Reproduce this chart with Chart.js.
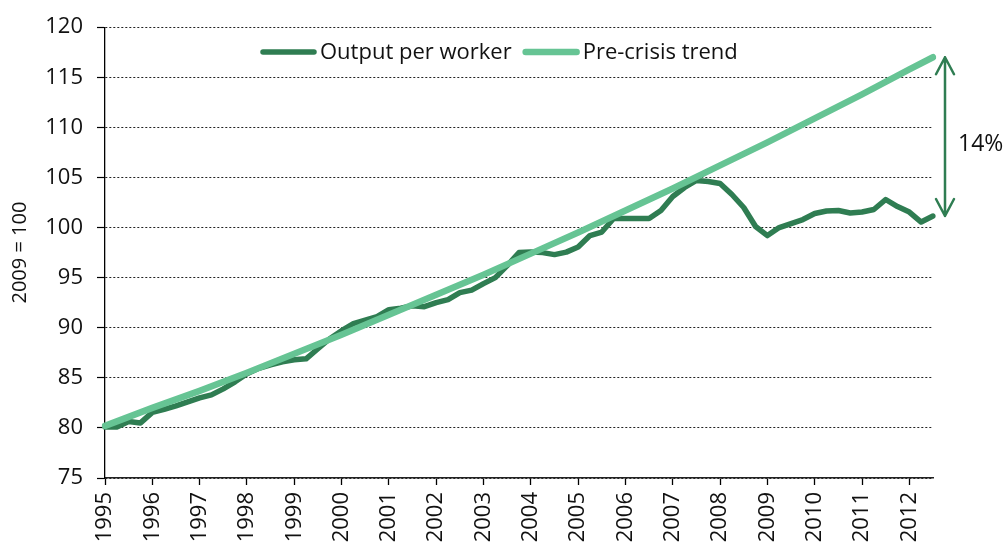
<!DOCTYPE html>
<html>
<head>
<meta charset="utf-8">
<script src="https://cdn.jsdelivr.net/npm/chart.js@4.4.1/dist/chart.umd.min.js"></script>
<style>
html,body{margin:0;padding:0;background:#fff;}
#wrap{width:1006px;height:546px;position:relative;}
</style>
</head>
<body>
<div id="wrap"><canvas id="c"></canvas></div>
<script>
// ---- data ----
const years = [1995,1996,1997,1998,1999,2000,2001,2002,2003,2004,2005,2006,2007,2008,2009,2010,2011,2012];
const lastQuarter = '2012 Q3';
const quarterLabels = [];
for (const y of years) { for (let q = 1; q <= 4; q++) { quarterLabels.push(y + ' Q' + q); } }
quarterLabels.length = quarterLabels.indexOf(lastQuarter) + 1;

const outputPerWorker = [
  80.1, 80.1, 80.65, 80.5,
  81.55, 81.85, 82.2, 82.6,
  83.0, 83.3, 83.9, 84.6,
  85.4, 85.95, 86.3, 86.6,
  86.8, 86.9, 87.9, 88.9,
  89.7, 90.4, 90.75, 91.1,
  91.8, 91.95, 92.2, 92.1,
  92.5, 92.8, 93.5, 93.75,
  94.4, 95.0, 96.2, 97.5,
  97.55, 97.5, 97.3, 97.55,
  98.05, 99.2, 99.55, 100.9,
  100.9, 100.9, 100.9, 101.7,
  103.1, 104.0, 104.7, 104.6,
  104.4, 103.3, 102.0, 100.1,
  99.2, 100.0, 100.4, 100.8,
  101.4, 101.65, 101.7, 101.45,
  101.55, 101.8, 102.8, 102.1,
  101.55, 100.55, 101.15
];

const trendQuarters = ['1995 Q1','1996 Q1','1997 Q1','1998 Q1','1999 Q1','2000 Q1','2001 Q1','2002 Q1','2003 Q1',
  '2004 Q1','2005 Q1','2006 Q1','2007 Q1','2008 Q1','2009 Q1','2010 Q1','2011 Q1','2012 Q1','2012 Q3'];
const trendValues = [80.2, 82.0, 83.7, 85.5, 87.4, 89.3, 91.3, 93.3, 95.3,
  97.4, 99.5, 101.7, 103.9, 106.2, 108.5, 110.9, 113.3, 115.8, 117.0];

const yTicks = [75, 80, 85, 90, 95, 100, 105, 110, 115, 120];
const seriesNames = ['Output per worker', 'Pre-crisis trend'];
const yAxisTitle = '2009 = 100';
const gapLabel = '14%';

// ---- styling ----
const DARK = '#2f7d52';
const LIGHT = '#66c494';
const FONT = "'Open Sans', 'DejaVu Sans', sans-serif";

const overlayPlugin = {
  id: 'overlay',
  afterDraw(chart) {
    const ctx = chart.ctx;
    const area = chart.chartArea;
    const ys = chart.scales.y;
    // legend
    ctx.save();
    ctx.font = '22px ' + FONT;
    ctx.textBaseline = 'middle';
    ctx.fillStyle = '#111';
    let x = 261; const ly = 52;
    chart.data.datasets.forEach(ds => {
      ctx.strokeStyle = ds.borderColor;
      ctx.lineWidth = ds.borderWidth;
      ctx.lineCap = 'round';
      ctx.beginPath(); ctx.moveTo(x + 2, ly); ctx.lineTo(x + 53, ly); ctx.stroke();
      ctx.fillText(ds.label, x + 59, ly + 1);
      x += 59 + ctx.measureText(ds.label).width + 12;
    });
    ctx.restore();

    // double arrow
    const ax = area.right + 12;
    const yTop = ys.getPixelForValue(trendValues[trendValues.length - 1]);
    const yBot = ys.getPixelForValue(outputPerWorker[outputPerWorker.length - 1]);
    ctx.save();
    ctx.strokeStyle = DARK;
    ctx.lineWidth = 2.5;
    ctx.lineCap = 'round';
    ctx.lineJoin = 'round';
    ctx.beginPath();
    ctx.moveTo(ax, yTop); ctx.lineTo(ax, yBot);
    ctx.moveTo(ax - 9, yTop + 17); ctx.lineTo(ax, yTop); ctx.lineTo(ax + 9, yTop + 17);
    ctx.moveTo(ax - 9, yBot - 17); ctx.lineTo(ax, yBot); ctx.lineTo(ax + 9, yBot - 17);
    ctx.stroke();
    ctx.font = '23px ' + FONT;
    ctx.fillStyle = '#111';
    ctx.textBaseline = 'middle';
    ctx.textAlign = 'left';
    ctx.fillText(gapLabel, ax + 13, (yTop + yBot) / 2 + 8);
    ctx.restore();
  }
};

new Chart(document.getElementById('c'), {
  type: 'line',
  data: {
    labels: quarterLabels,
    datasets: [
      {
        label: seriesNames[0],
        data: outputPerWorker,
        borderColor: DARK,
        backgroundColor: DARK,
        borderWidth: 5.5,
        pointRadius: 0,
        tension: 0,
        borderCapStyle: 'round',
        borderJoinStyle: 'round',
        order: 2
      },
      {
        label: seriesNames[1],
        data: trendQuarters.map((q, i) => ({ x: q, y: trendValues[i] })),
        borderColor: LIGHT,
        backgroundColor: LIGHT,
        borderWidth: 6.5,
        pointRadius: 0,
        tension: 0,
        borderCapStyle: 'round',
        borderJoinStyle: 'round',
        order: 1
      }
    ]
  },
  options: {
    responsive: true,
    maintainAspectRatio: false,
    animation: false,
    devicePixelRatio: 1,
    layout: { padding: { left: 0, right: 73, top: 26, bottom: 0 } },
    plugins: { legend: { display: false }, tooltip: { enabled: false } },
    scales: {
      x: {
        type: 'category',
        offset: false,
        afterBuildTicks(scale) {
          scale.ticks = scale.ticks.filter(t => /Q1$/.test(quarterLabels[t.value]));
        },
        afterFit(scale) { scale.height = 68; },
        grid: { display: true, drawOnChartArea: false, drawTicks: true, tickLength: 7, tickColor: '#000', tickWidth: 1.3, color: '#000' },
        border: { display: true, color: '#222', width: 1.5 },
        ticks: {
          autoSkip: false,
          maxRotation: 90,
          minRotation: 90,
          padding: 7,
          color: '#111',
          font: { family: FONT, size: 22 },
          callback(value) { return quarterLabels[value].slice(0, 4); }
        }
      },
      y: {
        min: yTicks[0],
        max: yTicks[yTicks.length - 1],
        afterBuildTicks(scale) { scale.ticks = yTicks.map(v => ({ value: v })); },
        afterFit(scale) { scale.width = 105; },
        grid: { color: '#222', lineWidth: 1, tickLength: 8, tickColor: '#000', tickWidth: 1.2 },
        border: { display: true, color: '#000', width: 1.3, dash: [2, 2] },
        ticks: {
          padding: 14,
          color: '#111',
          font: { family: FONT, size: 22 }
        },
        title: {
          display: true,
          text: yAxisTitle,
          color: '#111',
          font: { family: FONT, size: 20 },
          padding: { top: 8, bottom: 0 }
        }
      }
    }
  },
  plugins: [overlayPlugin]
});
</script>
</body>
</html>
